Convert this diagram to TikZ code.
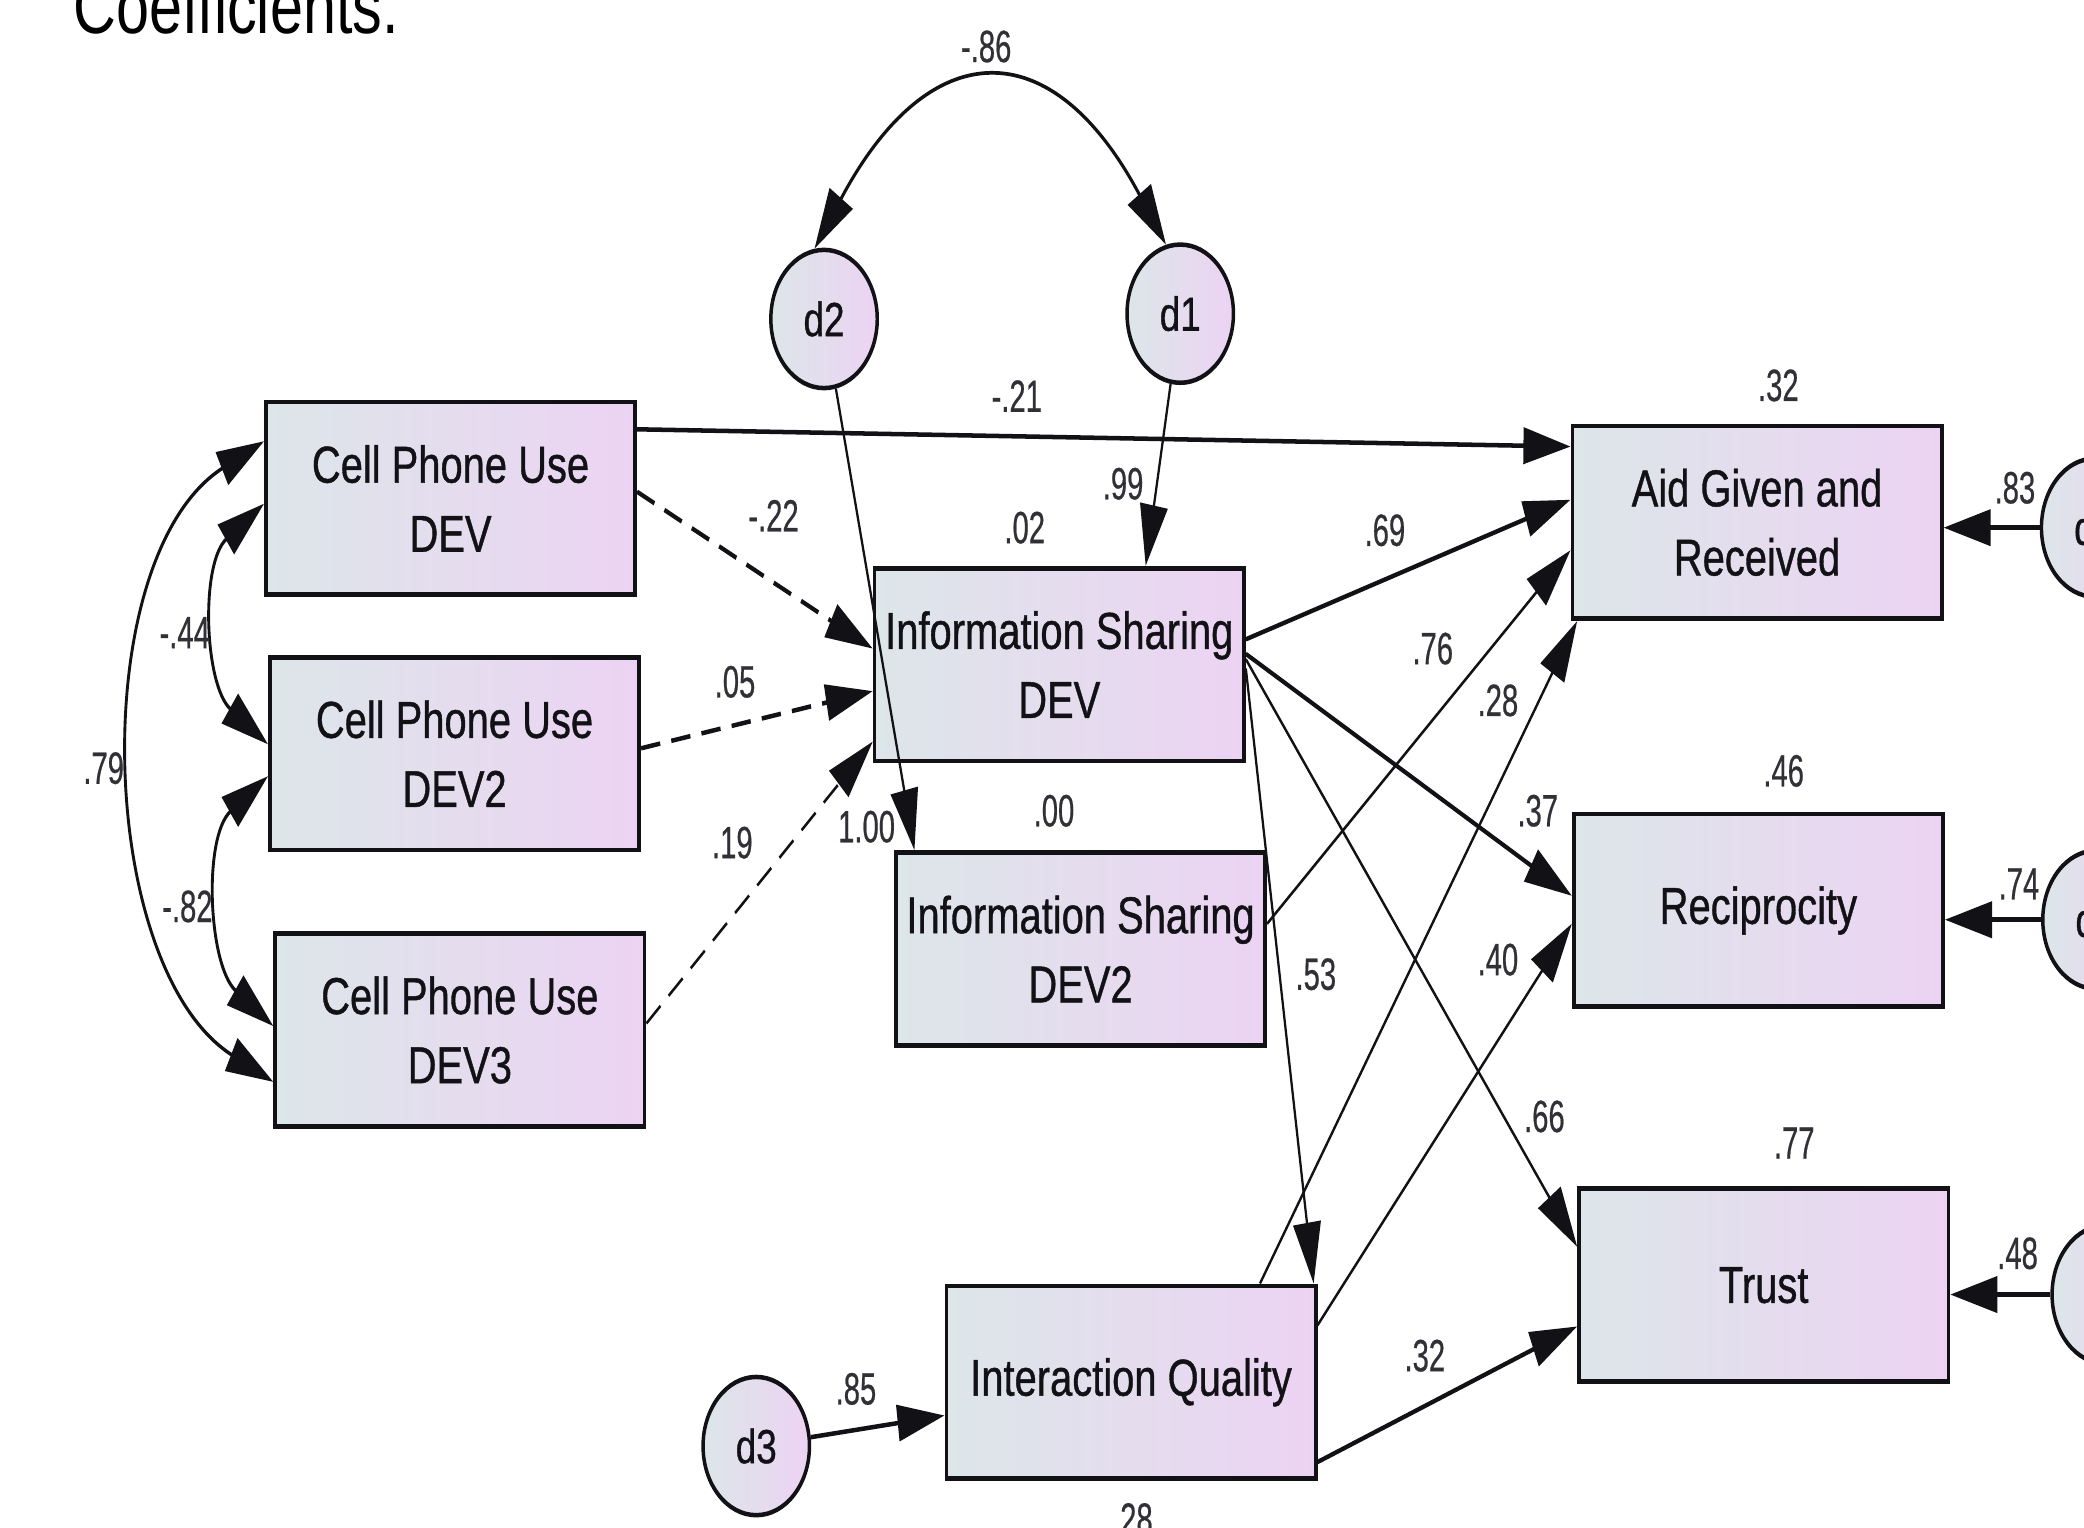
\documentclass[tikz,border=0pt]{standalone}
\usepackage{fontspec}
\setmainfont{Liberation Sans}
\newfontfamily\coeffont[FakeStretch=0.84,FakeBold=0.6]{Liberation Sans}
\newfontfamily\boxfont[FakeBold=0.9]{Liberation Sans}
\usetikzlibrary{arrows.meta,calc}

\definecolor{boxleft}{RGB}{221,230,233}
\definecolor{boxright}{RGB}{236,211,243}
\definecolor{inkline}{RGB}{18,18,22}
\definecolor{coefgray}{RGB}{48,48,54}

\tikzset{
  varbox/.style={draw=inkline, line width=3.6pt, left color=boxleft, right color=boxright,
    minimum width=361pt, minimum height=145pt, inner sep=0pt, align=center,
    font=\boxfont\fontsize{39}{52}\selectfont, text=inkline},
  errnode/.style={circle, draw=inkline, line width=3.4pt, left color=boxleft, right color=boxright,
    minimum size=104pt, inner sep=0pt, font=\boxfont\fontsize{36}{40}\selectfont, text=inkline},
  coef/.style={inner sep=0pt, font=\coeffont\fontsize{34}{36}\selectfont, text=coefgray},
  regline/.style={draw=inkline, line width=3.4pt, -{Triangle[length=46pt,width=27pt]}},
  thinreg/.style={regline, line width=2.2pt},
  dashreg/.style={regline, dash pattern=on 19pt off 11pt},
  covarc/.style={draw=inkline, line width=2.8pt,
    {Triangle[length=46pt,width=27pt]}-{Triangle[length=46pt,width=27pt]}},
}

\begin{document}
\begin{tikzpicture}[x=1pt,y=-1pt]
\useasboundingbox (0,0) rectangle (1568,1149);
\clip (0,0) rectangle (1568,1149);
\fill[white] (0,0) rectangle (1568,1149);
\begin{scope}[transform canvas={xscale=0.77}, x=1.2987pt, y=-1pt]

  % heading, cut by the top edge
  \node[anchor=base west, inner sep=0pt, font=\fontsize{58}{60}\selectfont] (title) at (55,25) {Coefficients.};

  % observed variables
  \node[varbox] (cpu1) at (339,375) {Cell Phone Use\\DEV};
  \node[varbox] (cpu2) at (342,567) {Cell Phone Use\\DEV2};
  \node[varbox] (cpu3) at (346,775) {Cell Phone Use\\DEV3};
  \node[varbox] (isd1) at (797,500) {Information Sharing\\DEV};
  \node[varbox] (isd2) at (813,714) {Information Sharing\\DEV2};
  \node[varbox] (iq)   at (851,1040) {Interaction Quality};
  \node[varbox] (aid)  at (1322,393) {Aid Given and\\Received};
  \node[varbox] (rec)  at (1323,685) {Reciprocity};
  \node[varbox] (tru)  at (1327,967) {Trust};

  % disturbances
  \node[errnode] (d2) at (620,240) {d2};
  \node[errnode] (d1) at (888,236) {d1};
  \node[errnode] (d3) at (569,1088) {d3};
  \node[errnode] (r1) at (1576,397) {d4};
  \node[errnode] (r2) at (1577,692) {d5};
  \node[errnode] (r3) at (1584,974) {d6};

  % covariances
  \draw[covarc] (d2.100) .. controls +(86,-162) and +(-86,-162) .. (d1.105);
  \draw[covarc] ($(cpu1.west)+(0,-43)$) .. controls +(-134,87) and +(-134,-87) .. ($(cpu3.west)+(0,39)$);
  \draw[covarc] ($(cpu1.west)+(0,4)$) .. controls +(-48,45) and +(-48,-45) .. ($(cpu2.west)+(0,-7)$);
  \draw[covarc] ($(cpu2.west)+(0,17)$) .. controls +(-49,46) and +(-49,-46) .. ($(cpu3.west)+(0,-3)$);

  % regression paths
  \draw[regline] ($(cpu1.east)+(0,-52)$) -- ($(aid.west)+(0,-57)$);
  \draw[dashreg] ($(cpu1.east)+(0,-5)$) -- ($(isd1.west)+(0,-12)$);
  \draw[dashreg] ($(cpu2.east)+(0,-4)$) -- ($(isd1.west)+(0,20)$);
  \draw[dashreg, line width=2.2pt] ($(cpu3.east)+(0,-5)$) -- ($(isd1.west)+(0,58)$);
  \draw[thinreg] (d2) -- ($(isd2.north)+(-125,0)$);
  \draw[thinreg] (d1) -- ($(isd1.north)+(65,0)$);
  \draw[regline] ($(isd1.east)+(0,-19)$) -- ($(aid.west)+(0,-17)$);
  \draw[regline] ($(isd1.east)+(0,-8)$) -- ($(rec.west)+(0,-11)$);
  \draw[thinreg] ($(isd1.east)+(0,-4)$) -- ($(tru.west)+(0,-29)$);
  \draw[thinreg] ($(isd1.east)+(0,3)$) -- ($(iq.north east)+(-3,0)$);
  \draw[thinreg] ($(isd2.east)+(0,-19)$) -- ($(aid.west)+(0,21)$);
  \draw[thinreg] ($(iq.north)+(97,0)$) -- ($(aid.south west)+(5,0)$);
  \draw[thinreg] ($(iq.east)+(0,-43)$) -- ($(rec.west)+(0,10)$);
  \draw[regline] ($(iq.east)+(0,60)$) -- ($(tru.west)+(0,31)$);
  \draw[regline] (d3) -- ($(iq.west)+(0,25)$);
  \draw[regline] (r1) -- ($(aid.east)+(0,4)$);
  \draw[regline] (r2) -- ($(rec.east)+(0,7)$);
  \draw[regline] (r3) -- ($(tru.east)+(0,7)$);

  % coefficients
  \node[coef] (c86)  at (742,35)  {-.86};
  \node[coef] (c21)  at (765,298) {-.21};
  \node[coef] (c22)  at (582,388) {-.22};
  \node[coef] (c99)  at (845,364) {.99};
  \node[coef] (c05)  at (553,513) {.05};
  \node[coef] (c69)  at (1042,399) {.69};
  \node[coef] (c76)  at (1078,488) {.76};
  \node[coef] (c28a) at (1127,527) {.28};
  \node[coef] (c19)  at (551,634) {.19};
  \node[coef] (c100) at (652,622) {1.00};
  \node[coef] (c37)  at (1157,610) {.37};
  \node[coef] (c53)  at (990,733) {.53};
  \node[coef] (c40)  at (1127,722) {.40};
  \node[coef] (c66)  at (1162,840) {.66};
  \node[coef] (c32a) at (1072,1020) {.32};
  \node[coef] (c85)  at (644,1045) {.85};
  \node[coef] (c83)  at (1516,367) {.83};
  \node[coef] (c74)  at (1519,665) {.74};
  \node[coef] (c48)  at (1518,943) {.48};
  \node[coef] (c44)  at (139,476) {-.44};
  \node[coef] (c82)  at (141,682) {-.82};
  \node[coef] (c79)  at (78,578)  {.79};

  % squared multiple correlations
  \node[coef] (r02) at (771,397)  {.02};
  \node[coef] (r00) at (793,610)  {.00};
  \node[coef] (r32) at (1338,290) {.32};
  \node[coef] (r46) at (1342,580) {.46};
  \node[coef] (r77) at (1350,860) {.77};
  \node[coef] (r28) at (852,1143) {.28};
\end{scope}
\end{tikzpicture}
\end{document}
